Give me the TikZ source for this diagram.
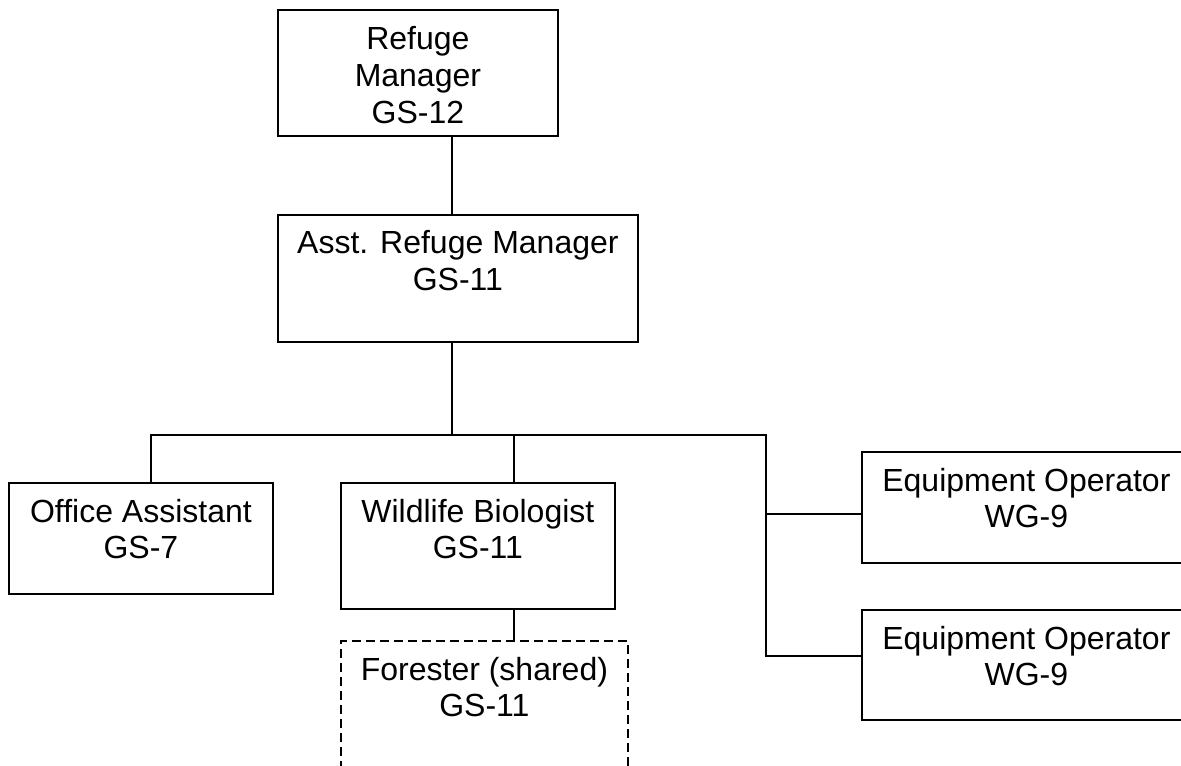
\documentclass[tikz,border=0pt]{standalone}
\usepackage{fontspec}
\setmainfont{Liberation Sans}
\usepackage{tikz}
\usetikzlibrary{positioning, calc}
\definecolor{ocLine}{RGB}{0, 0, 0}
\definecolor{ocText}{RGB}{0, 0, 0}
\tikzset{
    base/.style={
        font=\fontsize{16}{18.25}\selectfont,
        align=center,
        text=ocText
    },
    post/.style={
        rectangle,
        draw=ocLine,
        line width=0.9pt,
        inner sep=0pt,
        anchor=north west
    },
    shared/.style={
        post,
        dash pattern=on 4.5pt off 2.5pt
    },
    title/.style={
        base,
        anchor=base,
        inner sep=0pt
    },
    link/.style={
        draw=ocLine,
        line width=0.9pt
    }
}

\begin{document}
\begin{tikzpicture}[x=0.5pt, y=-0.5pt]
  \useasboundingbox (0,0) rectangle (1181,765);

  % Top of the chart
  \node[post, minimum width=140pt, minimum height=63pt] (ref) at (277,9) {};
  \node[title] (ref-t) at ([yshift=-57pt]ref.north) {Refuge\\Manager\\GS-12};

  \node[post, minimum width=180pt, minimum height=63.5pt] (asst) at (277,214) {};
  \node[title] (asst-t) at ([yshift=-38pt]asst.north) {Asst. Refuge Manager\\GS-11};

  % Staff row
  \node[post, minimum width=132pt, minimum height=55.5pt] (office) at (8,482) {};
  \node[title] (office-t) at ([yshift=-38.25pt]office.north) {Office Assistant\\GS-7};

  \node[post, minimum width=137pt, minimum height=63pt] (bio) at (340,482) {};
  \node[title] (bio-t) at ([yshift=-38.25pt]bio.north) {Wildlife Biologist\\GS-11};

  \node[shared, minimum width=143.5pt, minimum height=80pt] (forest) at (340,640) {};
  \node[title] (forest-t) at ([yshift=-38.25pt]forest.north) {Forester (shared)\\GS-11};

  \node[post, minimum width=164.5pt, minimum height=55.5pt] (eq1) at (861,451) {};
  \node[title] (eq1-t) at ([yshift=-38.25pt]eq1.north) {Equipment Operator\\WG-9};

  \node[post, minimum width=164.5pt, minimum height=55pt] (eq2) at (861,609) {};
  \node[title] (eq2-t) at ([yshift=-38.25pt]eq2.north) {Equipment Operator\\WG-9};

  % Lines
  \coordinate (trunk) at (452,435);
  \coordinate (busL) at (151,435);
  \coordinate (busR) at (766,435);
  \coordinate (tap) at (514,435);
  \coordinate (eqA) at (766,514);
  \coordinate (eqB) at (766,656);

  \draw[link] (ref.south -| trunk) -- (asst.north -| trunk);
  \draw[link] (asst.south -| trunk) -- (trunk);
  \draw[link] (office.north -| busL) -- (busL) -- (busR) -- (eqB) -- (eqB -| eq2.west);
  \draw[link] (eqA) -- (eqA -| eq1.west);
  \draw[link] (tap) -- (tap |- bio.north);
  \draw[link] (bio.south -| tap) -- (forest.north -| tap);
\end{tikzpicture}
\end{document}
